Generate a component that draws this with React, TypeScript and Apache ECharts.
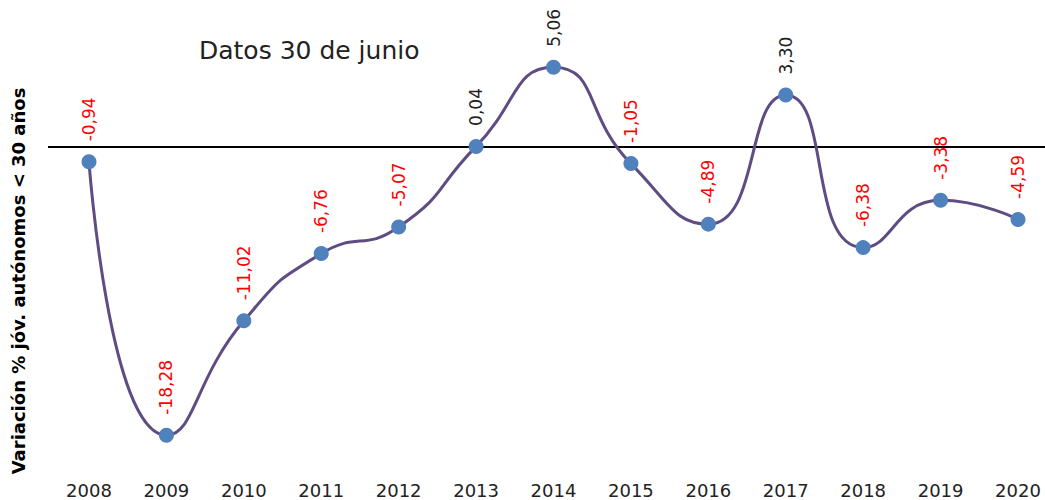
import React, { useEffect, useRef } from "react";
import * as echarts from "echarts";

const years = ["2008", "2009", "2010", "2011", "2012", "2013", "2014", "2015", "2016", "2017", "2018", "2019", "2020"];
const variation = [-0.94, -18.28, -11.02, -6.76, -5.07, 0.04, 5.06, -1.05, -4.89, 3.3, -6.38, -3.38, -4.59];
const titleText = "Datos 30 de junio";
const yAxisTitle = "Variación % jóv. autónomos < 30 años";

const FONT = "DejaVu Sans";

export default function App() {
  const ref = useRef<HTMLDivElement>(null);
  useEffect(() => {
    if (!ref.current) return;
    const chart = echarts.init(ref.current, undefined, { renderer: "svg" });
    chart.setOption({
      animation: false,
      backgroundColor: "#ffffff",
      title: {
        text: titleText,
        left: 194,
        top: 33,
        textStyle: { fontFamily: FONT, fontSize: 25, fontWeight: "normal", color: "#222" },
      },
      grid: { left: 89, right: 27, top: 52.4, bottom: 37.6 },
      xAxis: {
        type: "category",
        data: years,
        boundaryGap: false,
        axisLine: { show: false },
        axisTick: { show: false },
        axisLabel: { fontFamily: FONT, fontSize: 18, color: "#222", margin: 19 },
      },
      yAxis: {
        type: "value",
        min: -20,
        max: 6,
        axisLine: { show: false },
        axisTick: { show: false },
        axisLabel: { show: false },
        splitLine: { show: false },
      },
      series: [
        {
          type: "line",
          data: variation.map((v) => ({
            value: v,
            label: { color: v < 0 ? "#ff0000" : "#222" },
          })),
          smooth: 0.55,
          symbol: "circle",
          symbolSize: 15,
          lineStyle: { color: "#5e4c82", width: 3 },
          itemStyle: { color: "#4f81bd" },
          label: {
            show: true,
            position: "top",
            distance: 13,
            rotate: 90,
            align: "left",
            verticalAlign: "middle",
            fontFamily: FONT,
            fontSize: 17,
            formatter: (p: any) => Number(p.value).toFixed(2).replace(".", ","),
          },
          z: 3,
        },
      ],
    });
    const y0 = chart.convertToPixel({ yAxisIndex: 0 }, 0) as number;
    chart.setOption({
      graphic: [
        {
          type: "line",
          shape: { x1: 48, y1: y0, x2: 1045, y2: y0 },
          style: { stroke: "#000", lineWidth: 2 },
          z: 1,
        },
        {
          type: "text",
          x: 18,
          y: 281,
          rotation: Math.PI / 2,
          style: {
            text: yAxisTitle,
            fontFamily: FONT,
            fontSize: 18,
            fontWeight: "bold",
            fill: "#000",
            align: "center",
            verticalAlign: "middle",
          },
        },
      ],
    });
    return () => chart.dispose();
  }, []);
  return (
    <div
      ref={ref}
      style={{ position: "fixed", left: 0, top: 0, width: 1045, height: 500 }}
    />
  );
}
